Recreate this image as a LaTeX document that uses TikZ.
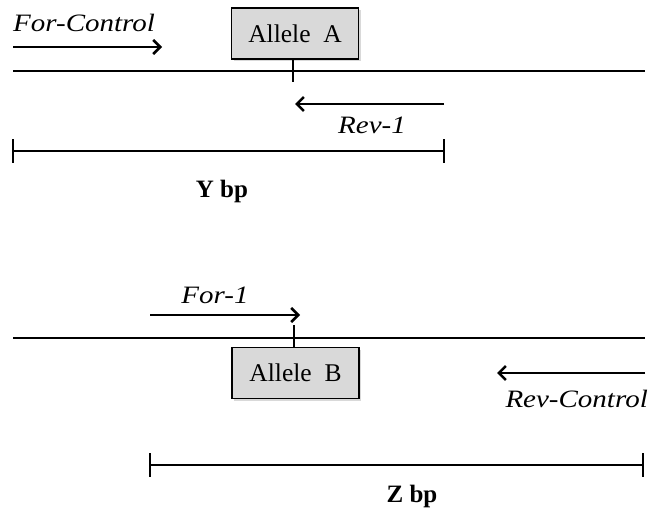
\documentclass[tikz,border=0pt]{standalone}
\usepackage{fontspec}
\setmainfont{Liberation Serif}
\usetikzlibrary{arrows.meta,shadows}
\newcommand{\widen}[1]{\scalebox{1.16}[1]{#1}}
\begin{document}
\begin{tikzpicture}[x=1pt,y=-1pt,
  line/.style={line width=2.9pt},
  primer/.style={line width=2.9pt,-{Straight Barb[length=7pt,width=14pt,line width=2.5pt]}},
  allele/.style={draw,line width=1.4pt,fill=gray!30,minimum width=127pt,minimum height=51pt,inner sep=0pt,
     font=\fontsize{25.5}{30}\selectfont,drop shadow={shadow xshift=2pt,shadow yshift=-2pt,opacity=0.3,fill=gray}},
  lbl/.style={inner sep=0pt,font=\fontsize{25}{30}\selectfont\itshape},
  bp/.style={inner sep=0pt,font=\fontsize{25}{30}\selectfont\bfseries}]
\useasboundingbox (0,0) rectangle (652,508);
% ---- top ----
\coordinate (l1a) at (13,71);
\coordinate (l1b) at (645,71);
\draw[line] (l1a) -- (l1b);
\node[allele] (alA) at (295,33.5) {Allele\ \ A};
\coordinate (t1) at (293,82);
\draw[line] (alA.south -| t1) -- (t1);
\coordinate (fc1) at (13,47);
\coordinate (fc2) at (162,47);
\draw[primer] (fc1) -- (fc2);
\node[lbl,anchor=base west] (fct) at (13,32) {\widen{For-Control}};
\coordinate (r11) at (444,104);
\coordinate (r12) at (295,104);
\draw[primer] (r11) -- (r12);
\node[lbl,anchor=base east] (r1t) at (406,133) {\widen{Rev-1}};
\coordinate (y1) at (13,151);
\coordinate (y2) at (444,151);
\draw[line] (y1) -- (y2);
\draw[line] ([yshift=12pt]y1) -- ([yshift=-12pt]y1);
\draw[line] ([yshift=12pt]y2) -- ([yshift=-12pt]y2);
\node[bp,anchor=base] (ybp) at (222,197) {Y bp};
% ---- bottom ----
\coordinate (l2a) at (13,338);
\coordinate (l2b) at (645,338);
\draw[line] (l2a) -- (l2b);
\node[allele] (alB) at (295.5,373) {Allele\ \ B};
\coordinate (t2) at (294,325);
\draw[line] (t2) -- (alB.north -| t2);
\coordinate (f11) at (150,315);
\coordinate (f12) at (300,315);
\draw[primer] (f11) -- (f12);
\node[lbl,anchor=base] (f1t) at (215,303) {\widen{For-1}};
\coordinate (rc1) at (645,373);
\coordinate (rc2) at (497,373);
\draw[primer] (rc1) -- (rc2);
\node[lbl,anchor=base east] (rct) at (648,407) {\widen{Rev-Control}};
\coordinate (z1) at (150,465);
\coordinate (z2) at (643,465);
\draw[line] (z1) -- (z2);
\draw[line] ([yshift=12pt]z1) -- ([yshift=-12pt]z1);
\draw[line] ([yshift=12pt]z2) -- ([yshift=-12pt]z2);
\node[bp,anchor=base] (zbp) at (412,502) {Z bp};
\end{tikzpicture}
\end{document}
